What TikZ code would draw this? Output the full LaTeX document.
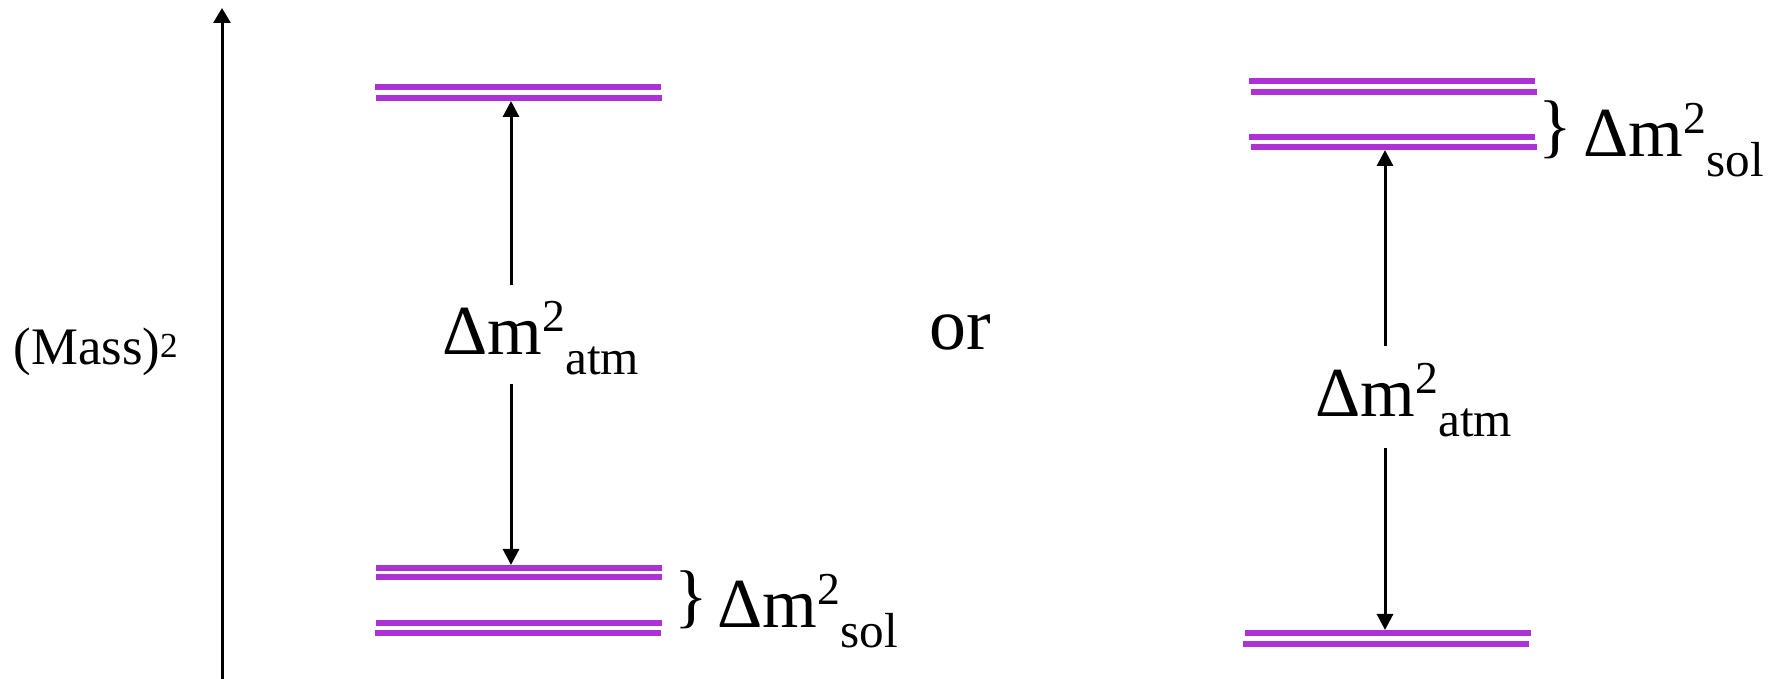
\documentclass[tikz,border=0pt]{standalone}
\usepackage{fontspec}
\setmainfont{Liberation Serif}
\newfontfamily\lvfont{Liberation Serif}
\usepackage{xcolor}
\usetikzlibrary{arrows.meta, positioning, calc}

\definecolor{levelpurple}{RGB}{172,50,214}
\newcommand{\dmsq}[1]{Δm\raisebox{0.23cm}{\fontsize{13}{15}\selectfont 2}\raisebox{-0.2cm}{\fontsize{14}{16}\selectfont #1}}

\begin{document}
\begin{tikzpicture}
    % Define styles
    \tikzstyle{massbar} = [draw=levelpurple, line width=0.06cm]
    \tikzstyle{dmlabel} = [inner sep=0pt, anchor=base west, font=\lvfont\fontsize{20}{24}\selectfont]
    \tikzstyle{arrow} = [-{Triangle[length=0.16cm, width=0.16cm]}, line width=0.03cm]
    \useasboundingbox (0,0) rectangle (17.81,6.79);

    % Axis
    \coordinate (axisbot) at (2.22,0);
    \coordinate (axistop) at (2.22,6.71);
    \draw[-{Triangle[length=0.15cm, width=0.17cm]}, line width=0.03cm] (axisbot) -- (axistop);
    \node[anchor=base west, inner sep=0pt, font=\lvfont\fontsize{15}{18}\selectfont] (mass) at (0.13,3.14) {(Mass)\raisebox{0.07cm}{\fontsize{10}{12}\selectfont 2}};

    % Left levels
    \draw[massbar] (3.75,5.918) -- (6.61,5.918);
    \draw[massbar] (3.76,5.812) -- (6.62,5.812);
    \draw[massbar] (3.76,1.112) -- (6.62,1.112);
    \draw[massbar] (3.76,1.018) -- (6.62,1.018);
    \draw[massbar] (3.76,0.556) -- (6.62,0.556);
    \draw[massbar] (3.75,0.458) -- (6.61,0.458);

    % Left labels and arrows
    \coordinate (atmLtop) at (5.11,5.78);
    \coordinate (atmLbot) at (5.11,1.14);
    \node[dmlabel] (atmL) at (4.42,3.24) {\dmsq{atm}};
    \draw[arrow, shorten <=0.16cm] (atmL.north -| atmLtop) -- (atmLtop);
    \draw[arrow, shorten <=0.08cm] (atmL.south -| atmLbot) -- (atmLbot);
    \node[inner sep=0pt, font=\lvfont\fontsize{20}{24}\selectfont] (braceL) at (6.91,0.79) {\}};
    \node[dmlabel] (solL) at (7.17,0.51) {\dmsq{sol}};

    % Middle
    \node[dmlabel, font=\lvfont\fontsize{21}{25}\selectfont] (or) at (9.29,3.29) {or};

    % Right levels
    \draw[massbar] (12.49,5.98) -- (15.35,5.98);
    \draw[massbar] (12.51,5.87) -- (15.37,5.87);
    \draw[massbar] (12.49,5.42) -- (15.35,5.42);
    \draw[massbar] (12.51,5.315) -- (15.37,5.315);
    \draw[massbar] (12.45,0.457) -- (15.31,0.457);
    \draw[massbar] (12.43,0.352) -- (15.29,0.352);

    % Right labels and arrows
    \coordinate (atmRtop) at (13.85,5.29);
    \coordinate (atmRbot) at (13.85,0.49);
    \node[dmlabel] (atmR) at (13.15,2.62) {\dmsq{atm}};
    \draw[arrow, shorten <=0.17cm] (atmR.north -| atmRtop) -- (atmRtop);
    \draw[arrow, shorten <=0.10cm] (atmR.south -| atmRbot) -- (atmRbot);
    \node[inner sep=0pt, font=\lvfont\fontsize{20}{24}\selectfont] (braceR) at (15.55,5.49) {\}};
    \node[dmlabel] (solR) at (15.83,5.225) {\dmsq{sol}};
\end{tikzpicture}
\end{document}
